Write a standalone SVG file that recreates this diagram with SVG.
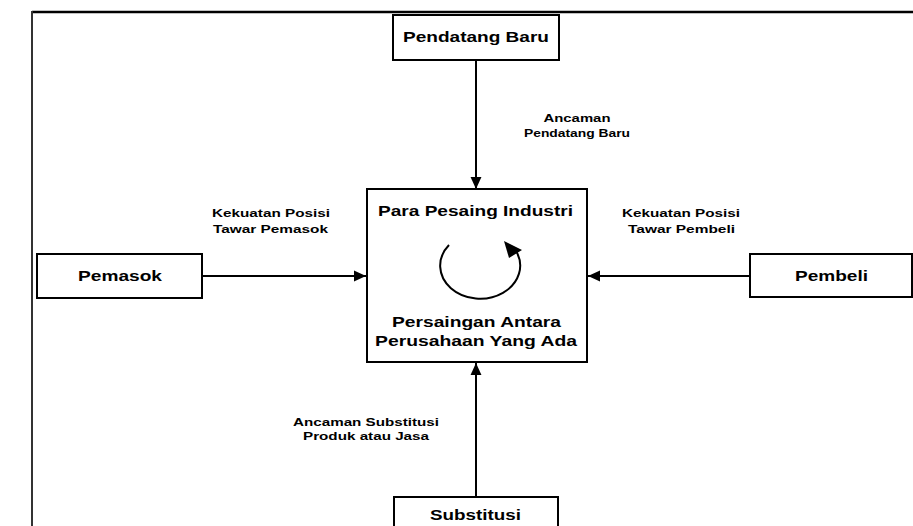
<svg xmlns="http://www.w3.org/2000/svg" width="913" height="526" viewBox="0 0 913 526">
<defs>
<style>
.box{fill:#fff;stroke:#000;stroke-width:2}
.conn{stroke:#000;stroke-width:2;fill:none}
.node{font-family:"Liberation Sans",Arial,sans-serif;font-weight:bold;font-size:15px;fill:#000;text-anchor:middle}
.lbl{font-family:"Liberation Sans",Arial,sans-serif;font-weight:bold;font-size:11px;fill:#000;text-anchor:middle}
</style>
<marker id="arr" markerUnits="userSpaceOnUse" markerWidth="12" markerHeight="12" viewBox="0 0 11 10" refX="11" refY="5" orient="auto">
<path d="M0,0 L11,5 L0,10 Z" fill="#000"/>
</marker>
</defs>
<rect x="0" y="0" width="913" height="526" fill="#fff"/>
<g id="frame">
<line x1="32" y1="12" x2="913" y2="12" stroke="#000" stroke-width="2.5"/>
<line x1="32" y1="11" x2="32" y2="526" stroke="#333" stroke-width="2"/>
</g>
<g id="connectors">
<line class="conn" x1="476" y1="60" x2="476" y2="189" marker-end="url(#arr)"/>
<line class="conn" x1="202" y1="276" x2="366" y2="276" marker-end="url(#arr)"/>
<line class="conn" x1="750" y1="276" x2="588" y2="276" marker-end="url(#arr)"/>
<line class="conn" x1="476" y1="497" x2="476" y2="363" marker-end="url(#arr)"/>
<text class="lbl" x="577" y="122" textLength="67" lengthAdjust="spacingAndGlyphs">Ancaman</text>
<text class="lbl" x="577" y="137" textLength="106" lengthAdjust="spacingAndGlyphs">Pendatang Baru</text>
<text class="lbl" x="271" y="217" textLength="118" lengthAdjust="spacingAndGlyphs">Kekuatan Posisi</text>
<text class="lbl" x="270.5" y="233" textLength="115" lengthAdjust="spacingAndGlyphs">Tawar Pemasok</text>
<text class="lbl" x="681" y="217" textLength="118" lengthAdjust="spacingAndGlyphs">Kekuatan Posisi</text>
<text class="lbl" x="681.5" y="233" textLength="107" lengthAdjust="spacingAndGlyphs">Tawar Pembeli</text>
<text class="lbl" x="366" y="426" textLength="146" lengthAdjust="spacingAndGlyphs">Ancaman Substitusi</text>
<text class="lbl" x="366" y="440" textLength="126" lengthAdjust="spacingAndGlyphs">Produk atau Jasa</text>
</g>
<g id="pendatang-baru">
<rect class="box" x="393" y="15" width="166" height="45"/>
<text class="node" x="476" y="42" textLength="146" lengthAdjust="spacingAndGlyphs">Pendatang Baru</text>
</g>
<g id="para-pesaing">
<rect class="box" x="367" y="189" width="220" height="173"/>
<text class="node" x="475.5" y="216" textLength="195" lengthAdjust="spacingAndGlyphs">Para Pesaing Industri</text>
<path d="M449,245 A40,33 0 1 0 516,251" fill="none" stroke="#000" stroke-width="2"/>
<polygon points="504,241 509,258 522,250" fill="#000"/>
<text class="node" x="476.5" y="327" textLength="169" lengthAdjust="spacingAndGlyphs">Persaingan Antara</text>
<text class="node" x="476" y="346" textLength="202" lengthAdjust="spacingAndGlyphs">Perusahaan Yang Ada</text>
</g>
<g id="pemasok">
<rect class="box" x="37" y="254" width="165" height="44"/>
<text class="node" x="120" y="281" textLength="84" lengthAdjust="spacingAndGlyphs">Pemasok</text>
</g>
<g id="pembeli">
<rect class="box" x="750" y="254" width="162" height="43"/>
<text class="node" x="831.5" y="281" textLength="73" lengthAdjust="spacingAndGlyphs">Pembeli</text>
</g>
<g id="substitusi">
<rect class="box" x="394" y="497" width="164" height="45"/>
<text class="node" x="475.5" y="520" textLength="91" lengthAdjust="spacingAndGlyphs">Substitusi</text>
</g>
</svg>
